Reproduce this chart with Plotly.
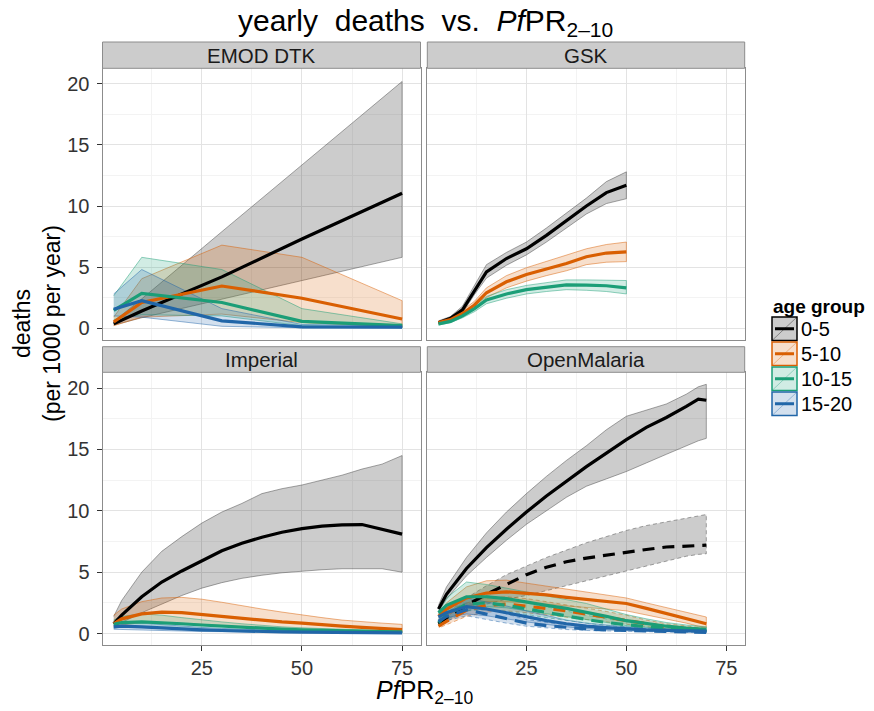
import plotly.graph_objects as go

# ---------------- data ----------------
AGE_GROUPS = ["0-5", "5-10", "10-15", "15-20"]
COLORS = {"0-5": "#000000", "5-10": "#D95F02", "10-15": "#1B9E77", "15-20": "#2166A8"}

# EMOD DTK
EMOD_X = [3, 10, 30, 50, 75]
EMOD_05_MID = [0.35, 1.4, 4.2, 7.3, 11.05]
EMOD_05_LO = [0.25, 0.85, 2.35, 3.9, 5.8]
EMOD_05_HI = [0.55, 2.4, 7.9, 13.4, 20.2]
EMOD_510_MID = [0.5, 2.1, 3.45, 2.45, 0.75]
EMOD_510_LO = [0.2, 0.9, 1.15, 0.45, 0.1]
EMOD_510_HI = [0.9, 4.05, 6.8, 5.8, 2.25]
EMOD_1015_MID = [1.45, 2.85, 2.1, 0.55, 0.2]
EMOD_1015_LO = [0.7, 1.1, 1.0, 0.2, 0.02]
EMOD_1015_HI = [2.65, 5.8, 4.8, 1.6, 0.35]
EMOD_1520_MID = [1.55, 2.25, 0.6, 0.1, 0.08]
EMOD_1520_LO = [1.0, 0.9, 0.15, 0.03, 0.02]
EMOD_1520_HI = [2.8, 4.8, 1.6, 0.3, 0.2]

# GSK
GSK_X = [3, 6, 9, 12, 15, 20, 25, 30, 35, 40, 45, 50]
GSK_05_MID = [0.45, 0.8, 1.5, 3.1, 4.6, 5.7, 6.5, 7.6, 8.8, 10.0, 11.1, 11.7]
GSK_05_LO = [0.35, 0.65, 1.25, 2.75, 4.1, 5.15, 6.0, 7.05, 8.2, 9.35, 10.2, 10.6]
GSK_05_HI = [0.6, 0.95, 1.8, 3.5, 5.2, 6.2, 7.05, 8.2, 9.4, 10.65, 12.0, 12.8]
GSK_510_MID = [0.45, 0.7, 1.2, 1.9, 2.9, 3.8, 4.4, 4.85, 5.3, 5.85, 6.15, 6.25]
GSK_510_LO = [0.35, 0.6, 1.0, 1.6, 2.5, 3.3, 3.85, 4.3, 4.7, 5.2, 5.4, 5.45]
GSK_510_HI = [0.55, 0.85, 1.45, 2.2, 3.3, 4.3, 4.95, 5.45, 5.95, 6.5, 6.85, 7.05]
GSK_1015_MID = [0.35, 0.55, 1.0, 1.6, 2.3, 2.8, 3.15, 3.37, 3.55, 3.52, 3.47, 3.3]
GSK_1015_LO = [0.25, 0.45, 0.85, 1.35, 2.0, 2.45, 2.8, 3.0, 3.15, 3.1, 3.0, 2.8]
GSK_1015_HI = [0.45, 0.7, 1.2, 1.85, 2.6, 3.15, 3.5, 3.75, 3.95, 3.95, 3.95, 3.9]

# Imperial
IMP_X = [3, 5, 10, 15, 20, 25, 30, 35, 40, 45, 50, 55, 60, 65, 70, 75]
IMP_05_MID = [0.8, 1.5, 3.0, 4.2, 5.1, 5.95, 6.75, 7.35, 7.85, 8.25, 8.55, 8.75, 8.85, 8.88, 8.5, 8.1]
IMP_05_LO = [0.65, 0.9, 1.7, 2.4, 3.1, 3.7, 4.15, 4.5, 4.75, 4.95, 5.1, 5.2, 5.28, 5.3, 5.28, 5.0]
IMP_05_HI = [1.4, 2.7, 5.0, 6.7, 7.9, 9.0, 9.9, 10.6, 11.4, 11.8, 12.1, 12.5, 12.9, 13.4, 13.8, 14.5]
IMP_510_MID = [0.8, 1.2, 1.6, 1.75, 1.7, 1.55, 1.35, 1.2, 1.05, 0.95, 0.85, 0.7, 0.6, 0.5, 0.4, 0.33]
IMP_510_LO = [0.55, 0.7, 0.9, 0.9, 0.85, 0.75, 0.65, 0.55, 0.45, 0.38, 0.32, 0.26, 0.22, 0.19, 0.16, 0.14]
IMP_510_HI = [1.5, 2.0, 2.6, 2.9, 2.95, 2.8, 2.55, 2.25, 2.0, 1.75, 1.5, 1.3, 1.1, 0.95, 0.85, 0.75]
IMP_1015_MID = [0.75, 0.9, 0.95, 0.9, 0.8, 0.7, 0.6, 0.5, 0.42, 0.36, 0.3, 0.25, 0.21, 0.18, 0.16, 0.14]
IMP_1015_LO = [0.45, 0.55, 0.55, 0.5, 0.42, 0.36, 0.3, 0.25, 0.2, 0.17, 0.14, 0.12, 0.1, 0.09, 0.08, 0.07]
IMP_1015_HI = [1.1, 1.4, 1.6, 1.5, 1.3, 1.1, 0.95, 0.8, 0.66, 0.55, 0.47, 0.4, 0.34, 0.3, 0.26, 0.23]
IMP_1520_MID = [0.55, 0.6, 0.55, 0.45, 0.38, 0.3, 0.25, 0.2, 0.17, 0.14, 0.12, 0.1, 0.09, 0.08, 0.07, 0.06]
IMP_1520_LO = [0.35, 0.38, 0.32, 0.26, 0.21, 0.17, 0.14, 0.11, 0.09, 0.08, 0.07, 0.06, 0.05, 0.04, 0.04, 0.03]
IMP_1520_HI = [0.8, 0.9, 0.85, 0.72, 0.6, 0.5, 0.42, 0.35, 0.3, 0.25, 0.21, 0.18, 0.16, 0.14, 0.12, 0.1]

# OpenMalaria (solid and dashed variants)
OM_X = [3, 5, 10, 15, 20, 25, 30, 35, 40, 45, 50, 55, 60, 65, 68, 70]
OM_05_MID = [2.0, 3.2, 5.3, 7.0, 8.5, 9.9, 11.2, 12.4, 13.6, 14.7, 15.8, 16.8, 17.6, 18.5, 19.1, 19.0]
OM_05_LO = [1.8, 2.8, 4.7, 6.2, 7.6, 8.9, 10.0, 11.1, 12.0, 12.6, 13.2, 13.9, 14.6, 15.3, 15.7, 15.9]
OM_05_HI = [2.3, 3.8, 6.2, 8.2, 9.9, 11.4, 12.8, 14.1, 15.3, 16.6, 17.7, 18.2, 18.7, 19.5, 20.1, 20.3]
OM_510_MID = [1.4, 2.0, 2.9, 3.3, 3.4, 3.3, 3.15, 2.95, 2.8, 2.6, 2.45, 2.05, 1.65, 1.25, 0.95, 0.8]
OM_510_LO = [1.1, 1.5, 2.2, 2.6, 2.6, 2.5, 2.4, 2.25, 2.1, 2.0, 1.85, 1.5, 1.2, 0.85, 0.6, 0.5]
OM_510_HI = [1.6, 2.5, 3.8, 4.3, 4.35, 4.1, 3.85, 3.6, 3.35, 3.1, 2.9, 2.5, 2.1, 1.7, 1.45, 1.35]
OM_1015_MID = [1.7, 2.3, 3.0, 3.0, 2.85, 2.55, 2.3, 2.05, 1.75, 1.4, 1.05, 0.8, 0.6, 0.45, 0.38, 0.35]
OM_1015_LO = [1.4, 1.8, 2.2, 2.2, 2.1, 1.85, 1.6, 1.4, 1.15, 0.9, 0.65, 0.5, 0.38, 0.28, 0.22, 0.2]
OM_1015_HI = [2.0, 2.9, 4.2, 4.0, 3.7, 3.4, 3.1, 2.8, 2.45, 2.0, 1.55, 1.2, 0.9, 0.7, 0.6, 0.55]
OM_1520_MID = [1.35, 1.7, 2.2, 2.0, 1.7, 1.35, 1.05, 0.8, 0.6, 0.48, 0.38, 0.3, 0.25, 0.22, 0.2, 0.2]
OM_1520_LO = [1.05, 1.3, 1.6, 1.45, 1.2, 0.95, 0.72, 0.55, 0.4, 0.3, 0.24, 0.18, 0.15, 0.13, 0.12, 0.12]
OM_1520_HI = [1.7, 2.2, 2.9, 2.6, 2.25, 1.85, 1.45, 1.1, 0.85, 0.68, 0.55, 0.45, 0.38, 0.33, 0.3, 0.3]

OMD_05_MID = [0.8, 1.3, 2.3, 3.2, 4.0, 4.8, 5.4, 5.85, 6.15, 6.4, 6.65, 6.85, 7.05, 7.15, 7.2, 7.2]
OMD_05_LO = [0.65, 1.0, 1.8, 2.4, 2.8, 3.1, 3.5, 3.9, 4.3, 4.7, 5.1, 5.5, 5.9, 6.3, 6.45, 6.5]
OMD_05_HI = [1.0, 1.6, 2.9, 3.9, 4.8, 5.5, 6.2, 6.8, 7.4, 7.9, 8.4, 8.8, 9.1, 9.4, 9.6, 9.7]
OMD_510_MID = [0.6, 1.0, 1.9, 2.3, 2.4, 2.25, 2.05, 1.85, 1.6, 1.35, 1.1, 0.8, 0.55, 0.4, 0.35, 0.3]
OMD_510_LO = [0.45, 0.7, 1.4, 1.75, 1.85, 1.7, 1.55, 1.35, 1.15, 0.95, 0.75, 0.55, 0.38, 0.27, 0.22, 0.2]
OMD_510_HI = [0.8, 1.35, 2.5, 2.9, 3.0, 2.85, 2.6, 2.35, 2.1, 1.8, 1.5, 1.1, 0.8, 0.6, 0.5, 0.45]
OMD_1015_MID = [0.9, 1.5, 2.4, 2.5, 2.3, 2.0, 1.7, 1.4, 1.15, 0.9, 0.7, 0.55, 0.45, 0.35, 0.3, 0.28]
OMD_1015_LO = [0.7, 1.15, 1.85, 1.95, 1.8, 1.55, 1.3, 1.05, 0.85, 0.65, 0.5, 0.4, 0.3, 0.24, 0.2, 0.18]
OMD_1015_HI = [1.15, 1.9, 3.0, 3.1, 2.85, 2.5, 2.15, 1.8, 1.5, 1.2, 0.95, 0.75, 0.6, 0.48, 0.42, 0.4]
OMD_1520_MID = [1.0, 1.4, 1.95, 1.6, 1.2, 0.85, 0.65, 0.5, 0.38, 0.3, 0.25, 0.2, 0.17, 0.14, 0.12, 0.1]
OMD_1520_LO = [0.75, 1.05, 1.45, 1.15, 0.85, 0.6, 0.45, 0.33, 0.25, 0.19, 0.15, 0.12, 0.1, 0.08, 0.07, 0.06]
OMD_1520_HI = [1.3, 1.8, 2.5, 2.1, 1.6, 1.15, 0.9, 0.7, 0.55, 0.43, 0.36, 0.3, 0.25, 0.21, 0.19, 0.17]

PANEL_TITLES = ["EMOD DTK", "GSK", "Imperial", "OpenMalaria"]
X_TICKS = [25, 50, 75]
Y_TICKS = [0, 5, 10, 15, 20]

# (panel index, age group, x, mid, lo, hi, dashed)
SERIES = [
    (0, "0-5", EMOD_X, EMOD_05_MID, EMOD_05_LO, EMOD_05_HI, False),
    (0, "5-10", EMOD_X, EMOD_510_MID, EMOD_510_LO, EMOD_510_HI, False),
    (0, "10-15", EMOD_X, EMOD_1015_MID, EMOD_1015_LO, EMOD_1015_HI, False),
    (0, "15-20", EMOD_X, EMOD_1520_MID, EMOD_1520_LO, EMOD_1520_HI, False),
    (1, "0-5", GSK_X, GSK_05_MID, GSK_05_LO, GSK_05_HI, False),
    (1, "5-10", GSK_X, GSK_510_MID, GSK_510_LO, GSK_510_HI, False),
    (1, "10-15", GSK_X, GSK_1015_MID, GSK_1015_LO, GSK_1015_HI, False),
    (2, "0-5", IMP_X, IMP_05_MID, IMP_05_LO, IMP_05_HI, False),
    (2, "5-10", IMP_X, IMP_510_MID, IMP_510_LO, IMP_510_HI, False),
    (2, "10-15", IMP_X, IMP_1015_MID, IMP_1015_LO, IMP_1015_HI, False),
    (2, "15-20", IMP_X, IMP_1520_MID, IMP_1520_LO, IMP_1520_HI, False),
    (3, "0-5", OM_X, OMD_05_MID, OMD_05_LO, OMD_05_HI, True),
    (3, "5-10", OM_X, OMD_510_MID, OMD_510_LO, OMD_510_HI, True),
    (3, "10-15", OM_X, OMD_1015_MID, OMD_1015_LO, OMD_1015_HI, True),
    (3, "15-20", OM_X, OMD_1520_MID, OMD_1520_LO, OMD_1520_HI, True),
    (3, "0-5", OM_X, OM_05_MID, OM_05_LO, OM_05_HI, False),
    (3, "5-10", OM_X, OM_510_MID, OM_510_LO, OM_510_HI, False),
    (3, "10-15", OM_X, OM_1015_MID, OM_1015_LO, OM_1015_HI, False),
    (3, "15-20", OM_X, OM_1520_MID, OM_1520_LO, OM_1520_HI, False),
]

# ---------------- layout helpers ----------------
W, H = 874, 711
FONT = "Liberation Sans, Arial, sans-serif"


def px(xp):
    return xp / W


def py(yp):
    return 1 - yp / H


def rgba(hexc, a):
    h = hexc.lstrip("#")
    r, g, b = int(h[0:2], 16), int(h[2:4], 16), int(h[4:6], 16)
    return f"rgba({r},{g},{b},{a})"


PANEL_X = [(102.5, 420.5), (427.3, 744.7)]
PANEL_Y = [(68.3, 339.5), (372.3, 645.0)]
STRIP_Y = [(42.0, 68.3), (346.7, 372.3)]
XRANGE = [0.2, 79.6]
YRANGE = [-0.93, 21.28]

fig = go.Figure()


def axnames(i):
    s = "" if i == 0 else str(i + 1)
    return "x" + s, "y" + s


# ribbons first
for (p, ag, xs, mid, lo, hi, dashed) in SERIES:
    xa, ya = axnames(p)
    c = COLORS[ag]
    edge = rgba("#444444", 0.6) if ag == "0-5" else rgba(c, 0.6)
    fig.add_trace(go.Scatter(
        x=list(xs) + list(xs)[::-1], y=list(hi) + list(lo)[::-1],
        fill="toself", fillcolor=rgba(c, 0.2), mode="lines",
        line=dict(color=edge, width=0.8, dash="4px,3px" if dashed else "solid"),
        xaxis=xa, yaxis=ya, showlegend=False, hoverinfo="skip"))

# lines
for (p, ag, xs, mid, lo, hi, dashed) in SERIES:
    xa, ya = axnames(p)
    fig.add_trace(go.Scatter(
        x=xs, y=mid, mode="lines",
        line=dict(color=COLORS[ag], width=3.2, dash="12px,8px" if dashed else "solid"),
        xaxis=xa, yaxis=ya, showlegend=False, name=ag))

layout = dict(
    width=W, height=H, margin=dict(l=0, r=0, t=0, b=0),
    paper_bgcolor="white", plot_bgcolor="white",
    font=dict(family=FONT, color="#1a1a1a"), showlegend=False,
)

shapes = []
annotations = []
for i in range(4):
    row, col = divmod(i, 2)
    xa, ya = axnames(i)
    xkey = "xaxis" if i == 0 else f"xaxis{i+1}"
    ykey = "yaxis" if i == 0 else f"yaxis{i+1}"
    x0, x1 = PANEL_X[col]
    y0, y1 = PANEL_Y[row]
    bottom = row == 1
    left = col == 0
    layout[xkey] = dict(
        domain=[px(x0), px(x1)], anchor=ya, range=XRANGE,
        tickvals=X_TICKS, showticklabels=bottom, ticks="outside" if bottom else "",
        ticklen=5, tickwidth=1, tickcolor="#333333",
        tickfont=dict(size=20, color="#333333", family=FONT),
        showgrid=True, gridcolor="#e3e3e3", gridwidth=1, zeroline=False,
        minor=dict(tickvals=[12.5, 37.5, 62.5], showgrid=True, gridcolor="#f3f3f3", ticks=""),
        showline=True, mirror=True, linecolor="#8c8c8c", linewidth=1, fixedrange=True)
    layout[ykey] = dict(
        domain=[py(y1), py(y0)], anchor=xa, range=YRANGE,
        tickvals=Y_TICKS, showticklabels=left, ticks="outside" if left else "",
        ticklen=5, tickwidth=1, tickcolor="#333333", ticklabelstandoff=3,
        tickfont=dict(size=20, color="#333333", family=FONT),
        showgrid=True, gridcolor="#e3e3e3", gridwidth=1, zeroline=False,
        minor=dict(tickvals=[2.5, 7.5, 12.5, 17.5], showgrid=True, gridcolor="#f3f3f3", ticks=""),
        showline=True, mirror=True, linecolor="#8c8c8c", linewidth=1, fixedrange=True)
    sy0, sy1 = STRIP_Y[row]
    shapes.append(dict(type="rect", xref="paper", yref="paper",
                       x0=px(x0), x1=px(x1), y0=py(sy1), y1=py(sy0),
                       fillcolor="#cccccc", line=dict(color="#8c8c8c", width=1)))
    annotations.append(dict(text=PANEL_TITLES[i], xref="paper", yref="paper",
                            x=px((x0 + x1) / 2), y=py((sy0 + sy1) / 2),
                            xanchor="center", yanchor="middle", showarrow=False,
                            font=dict(size=20.5, color="#1a1a1a", family=FONT)))

# titles
annotations.append(dict(
    text="yearly\u00a0\u00a0deaths\u00a0\u00a0vs.\u00a0\u00a0<i>Pf</i>PR<sub>2\u201310</sub>",
    xref="paper", yref="paper", x=px(425), y=py(22), xanchor="center", yanchor="middle",
    showarrow=False, font=dict(size=30, color="#000000", family=FONT)))
annotations.append(dict(
    text="<i>Pf</i>PR<sub>2\u201310</sub>", xref="paper", yref="paper",
    x=px(425), y=py(692), xanchor="center", yanchor="middle", showarrow=False,
    font=dict(size=25, color="#000000", family=FONT)))
annotations.append(dict(
    text="deaths<br>(per 1000 per year)", xref="paper", yref="paper",
    x=px(37), y=py(324), xanchor="center", yanchor="middle", textangle=-90,
    showarrow=False, font=dict(size=23, color="#000000", family=FONT)))

# manual legend (ggplot style keys)
annotations.append(dict(text="<b>age group</b>", xref="paper", yref="paper",
                        x=px(771), y=py(306), xanchor="left", yanchor="middle",
                        showarrow=False, font=dict(size=19, color="#000000", family=FONT)))
KEY_X0, KEY_X1 = 772, 797
KEY_TOP, KEY_H = 317, 25
for k, ag in enumerate(AGE_GROUPS):
    c = COLORS[ag]
    t = KEY_TOP + k * KEY_H
    b = t + KEY_H - 1.5
    shapes.append(dict(type="rect", xref="paper", yref="paper",
                       x0=px(KEY_X0), x1=px(KEY_X1), y0=py(b), y1=py(t),
                       fillcolor=rgba(c, 0.2), line=dict(color=c, width=1.5)))
    shapes.append(dict(type="line", xref="paper", yref="paper",
                       x0=px(KEY_X0), x1=px(KEY_X1), y0=py(b), y1=py(t),
                       line=dict(color=rgba(c, 0.45), width=0.8)))
    shapes.append(dict(type="line", xref="paper", yref="paper",
                       x0=px(KEY_X0 + 3), x1=px(KEY_X1 - 3), y0=py((t + b) / 2), y1=py((t + b) / 2),
                       line=dict(color=c, width=3)))
    annotations.append(dict(text=ag, xref="paper", yref="paper",
                            x=px(KEY_X1 + 2), y=py((t + b) / 2), xanchor="left", yanchor="middle",
                            showarrow=False, font=dict(size=20, color="#000000", family=FONT)))

layout["shapes"] = shapes
layout["annotations"] = annotations
fig.update_layout(**layout)
fig.write_html("out.html")
